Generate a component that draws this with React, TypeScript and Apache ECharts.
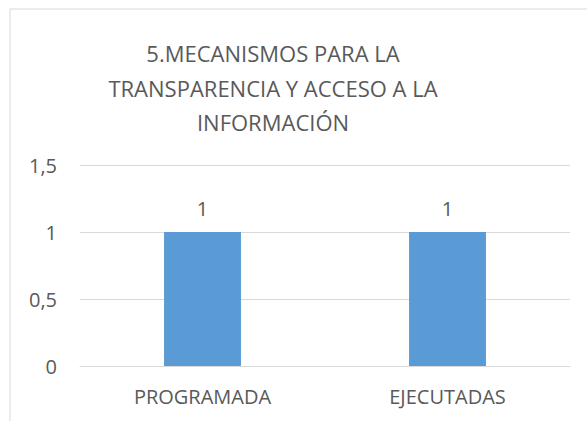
import React, { useEffect, useRef } from "react";
import * as echarts from "echarts";

const titleLines = ["5.MECANISMOS PARA LA", "TRANSPARENCIA Y ACCESO A LA", "INFORMACIÓN"];
const categories = ["PROGRAMADA", "EJECUTADAS"];
const values = [1, 1];
const yTicks = [0, 0.5, 1, 1.5];

const FONT = "Open Sans";
const TEXT = "#595959";

export default function App() {
  const ref = useRef<HTMLDivElement>(null);
  useEffect(() => {
    const chart = echarts.init(ref.current!, null, { renderer: "svg" });
    chart.setOption({
      animation: false,
      backgroundColor: "#ffffff",
      graphic: [
        {
          type: "rect",
          shape: { x: 10, y: 9, width: 600, height: 430 },
          style: { fill: "none", stroke: "#d9d9d9", lineWidth: 1 },
          silent: true,
        },
      ],
      title: {
        text: titleLines.join("\n"),
        left: 268,
        textAlign: "center",
        top: 31,
        textStyle: {
          fontFamily: FONT,
          fontSize: 22,
          fontWeight: "normal",
          color: TEXT,
          lineHeight: 34.5,
        },
      },
      grid: { left: 80, right: 17, top: 165, bottom: 55 },
      xAxis: {
        type: "category",
        data: categories,
        axisLine: { show: true, lineStyle: { color: "#d9d9d9" } },
        axisTick: { show: false },
        axisLabel: { color: TEXT, fontFamily: FONT, fontSize: 20, margin: 20 },
      },
      yAxis: {
        type: "value",
        min: yTicks[0],
        max: yTicks[yTicks.length - 1],
        interval: 0.5,
        axisLine: { show: false },
        axisTick: { show: false },
        splitLine: { lineStyle: { color: "#d9d9d9", width: 1 } },
        axisLabel: {
          color: TEXT,
          fontFamily: FONT,
          fontSize: 20,
          margin: 23,
          formatter: (v: number) => String(v).replace(".", ","),
        },
      },
      series: [
        {
          type: "bar",
          data: values,
          barWidth: "31.4%",
          itemStyle: { color: "#5B9BD5" },
          label: {
            show: true,
            position: "top",
            distance: 14,
            color: TEXT,
            fontFamily: FONT,
            fontSize: 20,
          },
        },
      ],
    });
    return () => chart.dispose();
  }, []);
  return (
    <div
      ref={ref}
      style={{ position: "fixed", left: 0, top: 0, width: 587, height: 421 }}
    />
  );
}
